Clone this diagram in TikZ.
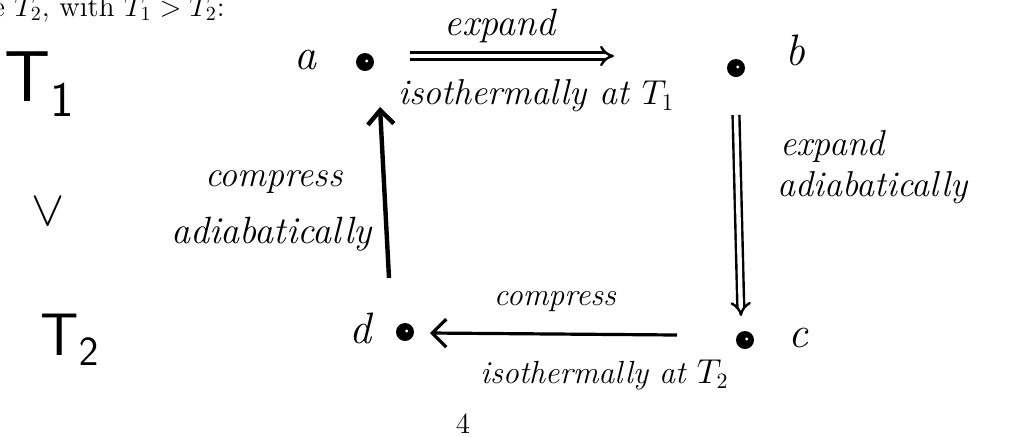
\documentclass[tikz,border=0pt]{standalone}
\usetikzlibrary{arrows.meta}
\begin{document}
\begin{tikzpicture}[x=0.5pt,y=-0.5pt,
  statedot/.style={circle,fill=black,inner sep=0pt,minimum size=9pt,
    path picture={\fill[white] ([xshift=0.9pt,yshift=0.5pt]path picture bounding box.center) circle (0.8pt);}},
  hand/.style={font=\fontsize{#1}{#1}\selectfont\itshape,inner sep=1pt},
  hand/.default=18,
  lbl/.style={font=\fontsize{22}{22}\selectfont\itshape,inner sep=1pt},
  bigT/.style={font=\fontsize{#1}{#1}\selectfont\sffamily,inner sep=0pt},
  dblarrow/.style={double,line width=1.2pt,double distance=2.2pt,-{Implies}},
  thickarrow/.style={line width=2.2pt,-{Straight Barb[length=7pt,width=13pt,line width=2.2pt]}},
  medarrow/.style={line width=1.6pt,-{Straight Barb[length=7pt,width=14pt,line width=1.6pt]}}]
\useasboundingbox (0,0) rectangle (1019,436);
% header line (cut at the top edge, as in the reference)
\node[anchor=base west,font=\fontsize{14.5}{17}\selectfont,inner sep=0pt] (hdr) at (-8,16) {e $T_2$, with $T_1 > T_2$:};
% temperatures
\node[bigT=36] (T1) at (40,84) {T$_{\mathsf{1}}$};
\node[font=\fontsize{36}{36}\selectfont,inner sep=0pt] (gt) at (48,212) {$\vee$};
\node[bigT=30] (T2) at (70,340) {T$_{\mathsf{2}}$};
% states
\node[statedot] (a) at (365,62) {};
\node[statedot] (b) at (736,68) {};
\node[statedot] (c) at (745,340) {};
\node[statedot] (d) at (405,332) {};
\node[lbl] (la) at (305,60) {a};
\node[lbl] (lb) at (795,50) {b};
\node[lbl] (lc) at (798,338) {c};
\node[lbl] (ld) at (360,328) {d};
% arrows
\coordinate (abs) at (410,56);
\coordinate (abe) at (614,56);
\draw[dblarrow] (abs) -- (abe);
\coordinate (bcs) at (736,115);
\coordinate (bce) at (741,316);
\draw[dblarrow] (bcs) -- (bce);
\coordinate (cds) at (677,335);
\coordinate (cde) at (430,333);
\draw[medarrow] (cds) -- (cde);
\coordinate (das) at (389,278);
\coordinate (dae) at (380,107);
\draw[thickarrow] (das) -- (dae);
% labels
\node[hand=19] (t1) at (500,26) {expand};
\node[hand=18,anchor=west] (t2) at (396,96) {isothermally at $T_1$};
\node[hand=18,anchor=west] (t3) at (778,146) {expand};
\node[hand=18,anchor=west] (t4) at (775,188) {adiabatically};
\node[hand=16] (t5) at (555,302) {compress};
\node[hand=16,anchor=west] (t6) at (478,375) {isothermally at $T_2$};
\node[hand=18,anchor=east] (t7) at (345,182) {compress};
\node[hand=19,anchor=east] (t8) at (374,234) {adiabatically};
% page number
\node[font=\fontsize{14.5}{17}\selectfont,inner sep=0pt] (pg) at (463,424) {4};
\end{tikzpicture}
\end{document}
